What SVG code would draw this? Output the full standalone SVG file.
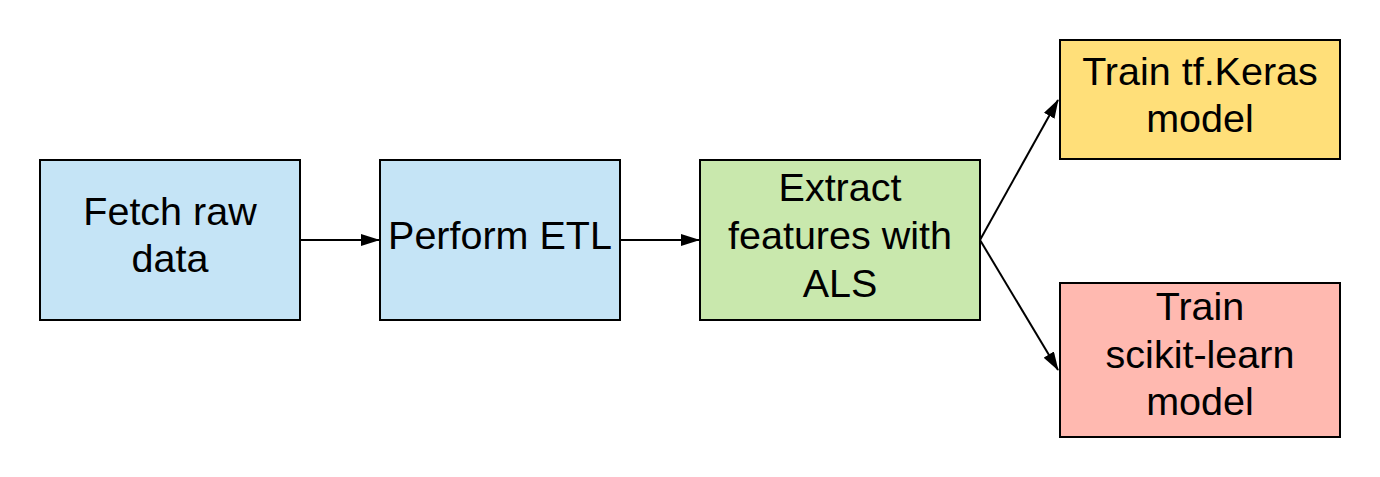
<svg xmlns="http://www.w3.org/2000/svg" width="1380" height="477" viewBox="0 0 1380 477">
<style>
.box{stroke:#000;stroke-width:2}
.t{font-family:"Liberation Sans",Arial,sans-serif;font-size:39.5px;fill:#000;text-anchor:middle}
.c{stroke:#000;stroke-width:2;fill:none}
</style>
<defs>
<marker id="ah" viewBox="0 0 19 12" refX="18" refY="6" markerWidth="19" markerHeight="12" markerUnits="userSpaceOnUse" orient="auto">
<path d="M0,0 L19,6 L0,12 Z" fill="#000"/>
</marker>
</defs>
<rect width="1380" height="477" fill="#fff"/>
<g id="connectors">
<line class="c" x1="300" y1="240" x2="379" y2="240" marker-end="url(#ah)"/>
<line class="c" x1="620" y1="240" x2="699" y2="240" marker-end="url(#ah)"/>
<line class="c" x1="980" y1="240" x2="1058" y2="100" marker-end="url(#ah)"/>
<line class="c" x1="980" y1="240" x2="1058" y2="370" marker-end="url(#ah)"/>
</g>
<g id="fetch">
<rect class="box" x="40" y="160" width="260" height="160" fill="#c5e4f6"/>
<text class="t" x="170" y="225">Fetch raw</text>
<text class="t" x="170" y="272">data</text>
</g>
<g id="etl">
<rect class="box" x="380" y="160" width="240" height="160" fill="#c5e4f6"/>
<text class="t" x="500" y="249">Perform ETL</text>
</g>
<g id="extract">
<rect class="box" x="700" y="160" width="280" height="160" fill="#c9e8ad"/>
<text class="t" x="840" y="201">Extract</text>
<text class="t" x="840" y="249">features with</text>
<text class="t" x="840" y="297">ALS</text>
</g>
<g id="keras">
<rect class="box" x="1060" y="40" width="280" height="119" fill="#ffdf79"/>
<text class="t" x="1200" y="85">Train tf.Keras</text>
<text class="t" x="1200" y="132">model</text>
</g>
<g id="sklearn">
<rect class="box" x="1060" y="283" width="280" height="154" fill="#ffb9b0"/>
<text class="t" x="1200" y="320">Train</text>
<text class="t" x="1200" y="368">scikit-learn</text>
<text class="t" x="1200" y="415">model</text>
</g>
</svg>
